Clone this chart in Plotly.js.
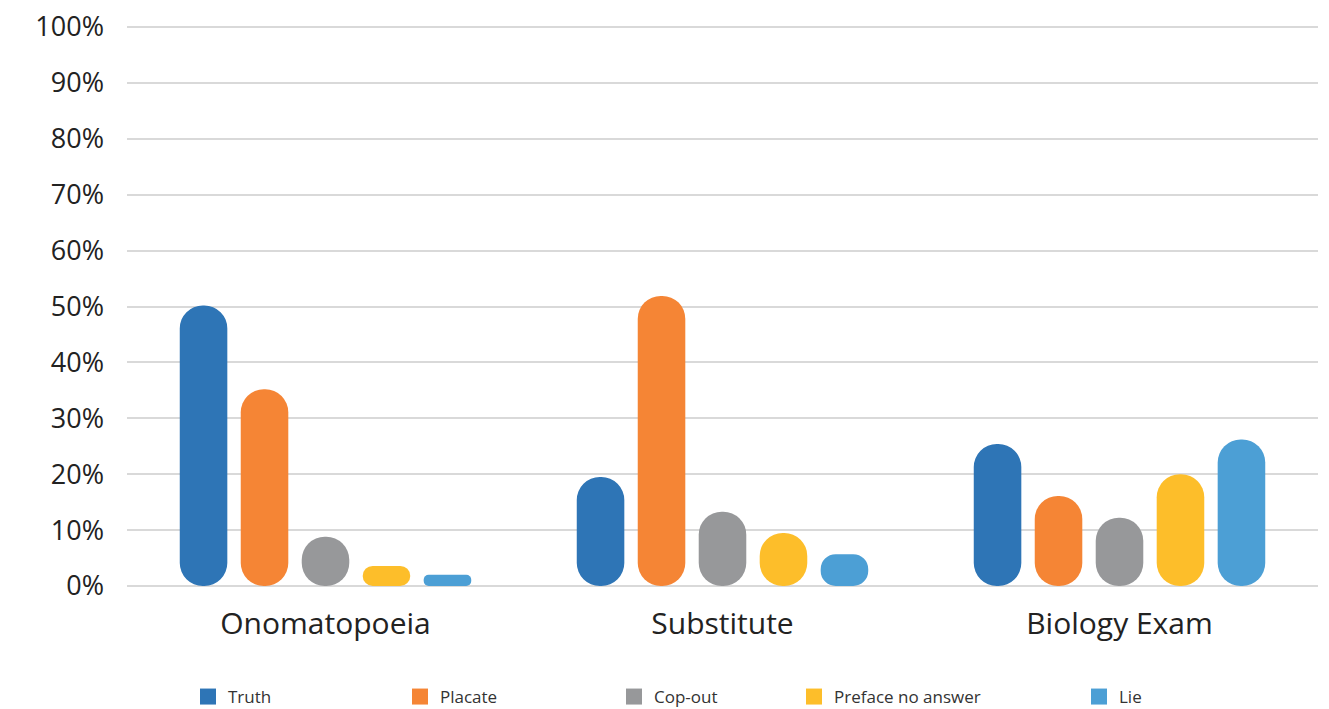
<!DOCTYPE html>
<html><head><meta charset="utf-8">
<script src="https://cdn.plot.ly/plotly-3.0.1.min.js"></script>
<style>html,body{margin:0;padding:0;background:#fff}</style></head>
<body><div id="chart" style="width:1329px;height:709px"></div>
<script>
const categories = ['Onomatopoeia', 'Substitute', 'Biology Exam'];
const seriesNames = ['Truth', 'Placate', 'Cop-out', 'Preface no answer', 'Lie'];
const truth   = [50.2, 19.5, 25.4];
const placate = [35.2, 51.9, 16.1];
const copout  = [8.8, 13.3, 12.2];
const preface = [3.6, 9.5, 20.0];
const lie     = [2.0, 5.7, 26.2];
const yTickVals = [0, 10, 20, 30, 40, 50, 60, 70, 80, 90, 100];
const yTickText = ['0%', '10%', '20%', '30%', '40%', '50%', '60%', '70%', '80%', '90%', '100%'];

const seriesValues = [truth, placate, copout, preface, lie];
const colors = ['#2E75B6', '#F58535', '#97989A', '#FDBE2A', '#4C9FD5'];
const legendIds = ['legend', 'legend2', 'legend3', 'legend4', 'legend5'];
const legendLeft = [188, 400, 614, 794, 1079];

const traces = [];
seriesValues.forEach((vals, i) => {
  traces.push({
    type: 'bar', name: seriesNames[i], x: categories, y: vals, base: vals.map(() => 0),
    marker: {color: colors[i], cornerradius: '50%'},
    showlegend: false, hoverinfo: 'skip'
  });
});
// legend entries (square swatches)
seriesNames.forEach((name, i) => {
  traces.push({
    type: 'scatter', mode: 'markers', name: name, x: [null], y: [null],
    marker: {symbol: 'square', size: 16, color: colors[i]},
    legend: legendIds[i], showlegend: true, hoverinfo: 'skip'
  });
});

const font = '"Open Sans", "Noto Sans", sans-serif';
const layout = {
  width: 1329, height: 709,
  margin: {l: 127, r: 11, t: 26, b: 123},
  paper_bgcolor: '#fff', plot_bgcolor: '#fff',
  barmode: 'group', bargap: 0.232, bargroupgap: 0.22,
  font: {family: font, color: '#222'},
  xaxis: {
    type: 'category', tickfont: {size: 30, color: '#222'},
    showgrid: false, showline: false, zeroline: false, ticks: '',
    ticklabelstandoff: 17, fixedrange: true
  },
  yaxis: {
    range: [0, 100.18], tickvals: yTickVals, ticktext: yTickText,
    tickfont: {size: 27, color: '#222'},
    gridcolor: '#d9d9d9', gridwidth: 2,
    zeroline: true, zerolinecolor: '#d9d9d9', zerolinewidth: 2,
    showline: false, ticks: '', ticklabelstandoff: 22, fixedrange: true
  },
  showlegend: true
};
legendIds.forEach((id, i) => {
  layout[id] = {
    xref: 'container', yref: 'container',
    x: legendLeft[i] / 1329, xanchor: 'left',
    y: (709 - 697) / 709, yanchor: 'middle',
    orientation: 'h', font: {size: 17, color: '#333', family: font},
    itemsizing: 'trace', bgcolor: 'rgba(0,0,0,0)'
  };
});

Plotly.newPlot('chart', traces, layout, {displayModeBar: false, staticPlot: true});
</script>
</body></html>
